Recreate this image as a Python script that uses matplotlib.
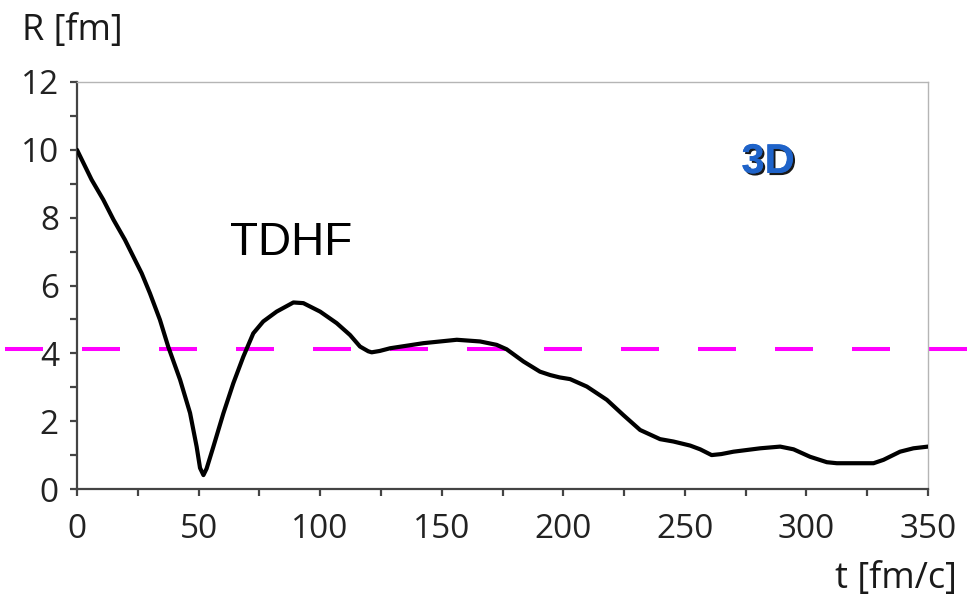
import numpy as np
import matplotlib.pyplot as plt
import matplotlib.patheffects as pe
from matplotlib.ticker import MultipleLocator

# TDHF separation R(t)
t = [0, 6, 10.8, 15, 19.7, 24.5, 26.6, 30, 34.1, 37.5, 42.4, 46.5, 49.2,
     50.6, 52, 53.3, 56.1, 60.2, 64.3, 68.4, 72.5, 76.6, 82.1, 89, 93.1,
     100, 106.8, 112.3, 116.4, 119.8, 121.2, 124.5, 128.8, 142.5, 156.2,
     165.8, 172.6, 176.7, 183.6, 190.4, 194.6, 198.5, 202.8, 209.7, 217.9,
     224.7, 231.6, 239.8, 245.3, 252.2, 256.3, 261, 265, 270, 281, 289.2,
     294.7, 301.5, 308.4, 312.5, 327.6, 331.7, 338.5, 344, 350]
R = [10.0, 9.12, 8.53, 7.94, 7.35, 6.66, 6.36, 5.77, 4.99, 4.2, 3.22, 2.24,
     1.25, 0.62, 0.41, 0.6, 1.25, 2.23, 3.12, 3.9, 4.59, 4.94, 5.23, 5.5,
     5.48, 5.23, 4.89, 4.54, 4.2, 4.06, 4.03, 4.07, 4.15, 4.3, 4.4, 4.35,
     4.25, 4.12, 3.76, 3.46, 3.36, 3.29, 3.24, 3.02, 2.63, 2.18, 1.74, 1.47,
     1.40, 1.28, 1.17, 1.0, 1.03, 1.10, 1.2, 1.25, 1.17, 0.95, 0.79, 0.76,
     0.76, 0.86, 1.10, 1.2, 1.25]
R_ref = 4.13

x_ticks = [0, 50, 100, 150, 200, 250, 300, 350]
y_ticks = [0, 2, 4, 6, 8, 10, 12]

fig = plt.figure(figsize=(9.77, 5.99), dpi=100)
ax = fig.add_axes([77/977, 1-489/599, 851/977, 407/599])

ax.plot(t, R, color='black', lw=3.0, solid_joinstyle='round',
        solid_capstyle='round', zorder=3)

# reference line runs across the whole figure width
lw_ref = 2.9
ax.axhline(R_ref, xmin=-77/851, xmax=900/851, color='#ff00ff', lw=lw_ref,
           linestyle=(72*0.72/lw_ref, (38*0.72/lw_ref, 39*0.72/lw_ref)),
           clip_on=False, zorder=2)

ax.set_xlim(0, 350)
ax.set_ylim(0, 12)
ax.set_xticks(x_ticks)
ax.set_yticks(y_ticks)
ax.xaxis.set_minor_locator(MultipleLocator(25))
ax.yaxis.set_minor_locator(MultipleLocator(1))

for side in ['left', 'bottom']:
    ax.spines[side].set_color('#444444')
    ax.spines[side].set_linewidth(1.6)
for side in ['top', 'right']:
    ax.spines[side].set_color('#b5b5b5')
    ax.spines[side].set_linewidth(1.0)

ax.tick_params(which='both', direction='out', length=5, width=1.6,
               color='#444444', labelcolor='#222222', labelsize=24)
ax.tick_params(axis='x', pad=12)
ax.tick_params(axis='y', pad=8)
for lab in ax.get_xticklabels() + ax.get_yticklabels():
    lab.set_fontfamily('Open Sans')

fig.text(22/977, 1-40/599, 'R [fm]', fontsize=26, family='Open Sans',
         color='#1a1a1a', va='baseline', ha='left')
fig.text(835/977, 1-588/599, 't [fm/c]', fontsize=26, family='Open Sans',
         color='#1a1a1a', va='baseline', ha='left')

fig.text(230/977, 1-255/599, 'TDHF', fontsize=33, family='Liberation Sans',
         color='black', va='baseline', ha='left')

txt = fig.text(768/977, 1-173/599, '3D', fontsize=30, family='Liberation Sans',
               weight='bold', color='#1f63c9', va='baseline', ha='center')
txt.set_path_effects([pe.withSimplePatchShadow(offset=(1.5, -1.5),
                                               shadow_rgbFace='black', alpha=0.9),
                      pe.Normal()])

fig.savefig('out.png', dpi=100)
